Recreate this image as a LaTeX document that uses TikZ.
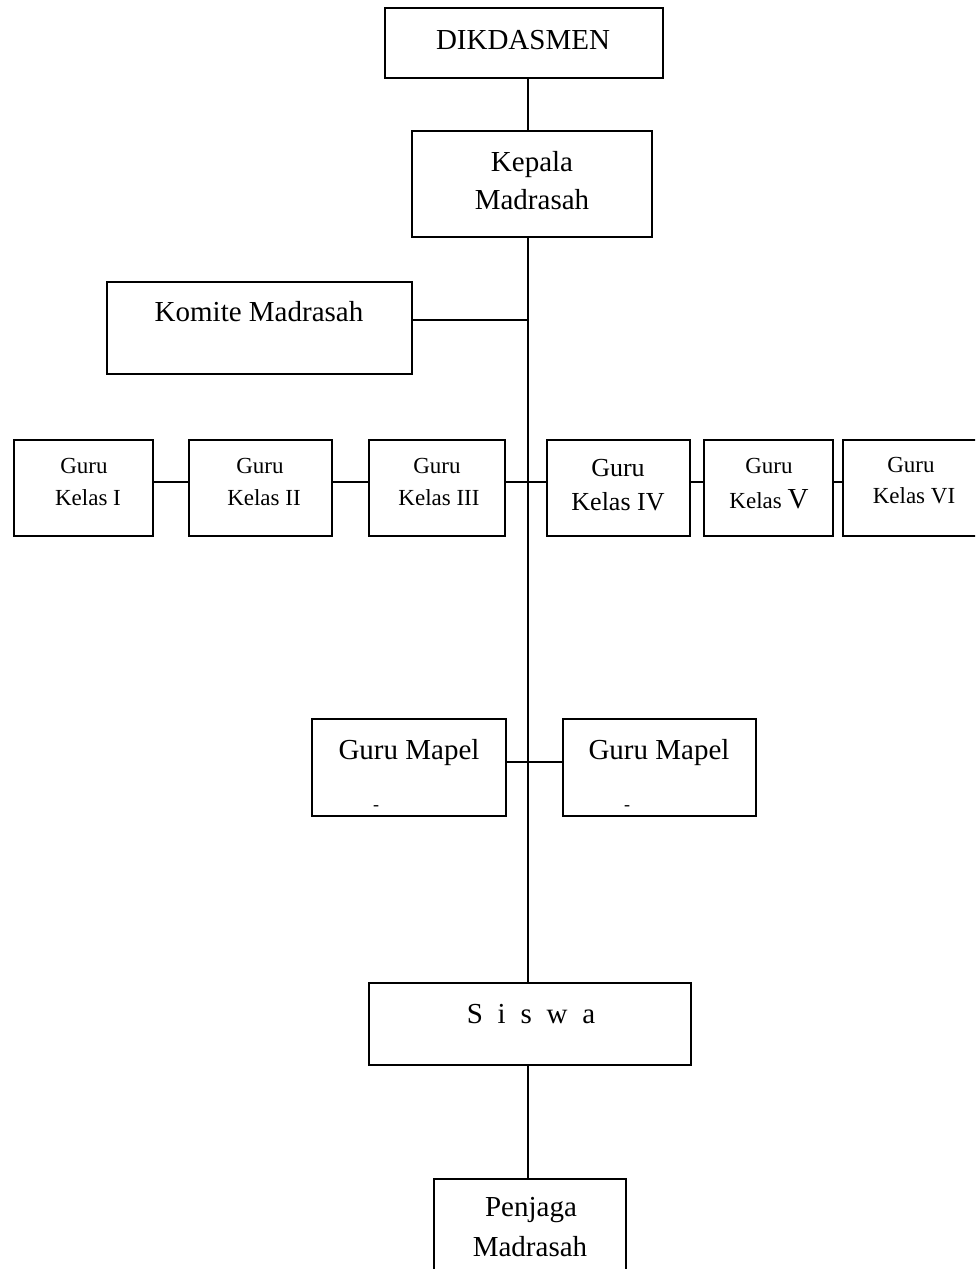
\documentclass[tikz,border=0pt]{standalone}
\usepackage{fontspec}
\setmainfont{Liberation Serif}
\tikzset{
  kotak/.style={draw=black, line width=1.6pt, inner sep=0pt, outer sep=0pt},
  garis/.style={black, line width=1.5pt},
  teks/.style={anchor=base, inner sep=0pt, font=\fontsize{29}{34}\selectfont},
  teksk/.style={anchor=base, inner sep=0pt, font=\fontsize{23}{28}\selectfont},
  teksm/.style={anchor=base, inner sep=0pt, font=\fontsize{26}{30}\selectfont}
}
\begin{document}
\begin{tikzpicture}[x=1pt,y=-1pt]
\useasboundingbox (0,0) rectangle (975,1269);
\clip (0,0) rectangle (975,1269);
\fill[white] (0,0) rectangle (975,1269);
% kotak
\node[kotak, minimum width=278pt, minimum height=70pt] (dik) at (524,43) {};
\node[kotak, minimum width=240pt, minimum height=106pt] (kepala) at (532,184) {};
\node[kotak, minimum width=305pt, minimum height=92pt] (komite) at (259.5,328) {};
\node[kotak, minimum width=139pt, minimum height=96pt] (k1) at (83.5,488) {};
\node[kotak, minimum width=143pt, minimum height=96pt] (k2) at (260.5,488) {};
\node[kotak, minimum width=136pt, minimum height=96pt] (k3) at (437,488) {};
\node[kotak, minimum width=143pt, minimum height=96pt] (k4) at (618.5,488) {};
\node[kotak, minimum width=129pt, minimum height=96pt] (k5) at (768.5,488) {};
\node[kotak, minimum width=140pt, minimum height=96pt] (k6) at (913,488) {};
\node[kotak, minimum width=194pt, minimum height=97pt] (mapelA) at (409,767.5) {};
\node[kotak, minimum width=193pt, minimum height=97pt] (mapelB) at (659.5,767.5) {};
\node[kotak, minimum width=322pt, minimum height=82pt] (siswa) at (530,1024) {};
\node[kotak, minimum width=192pt, minimum height=111pt] (penjaga) at (530,1234.5) {};
% teks
\node[teks] (tdik) at (523,49) {DIKDASMEN};
\node[teks] (tkep1) at (532,171) {Kepala};
\node[teks] (tkep2) at (532,209) {Madrasah};
\node[teks] (tkom) at (259,321) {Komite Madrasah};
\node[teksk] (tk1a) at (84,473) {Guru};
\node[teksk] (tk1b) at (88,505) {Kelas I};
\node[teksk] (tk2a) at (260,473) {Guru};
\node[teksk] (tk2b) at (264,505) {Kelas II};
\node[teksk] (tk3a) at (437,473) {Guru};
\node[teksk] (tk3b) at (439,505) {Kelas III};
\node[teksm] (tk4a) at (618,476) {Guru};
\node[teksm] (tk4b) at (618,510) {Kelas IV};
\node[teksk] (tk5a) at (769,473) {Guru};
\node[teksk] (tk5b) at (769,508) {Kelas {\fontsize{29}{34}\selectfont V}};
\node[teksk] (tk6a) at (911,472) {Guru};
\node[teksk] (tk6b) at (914,503) {Kelas VI};
\node[teks] (tmA) at (409,759) {Guru Mapel};
\node[teks] (tmB) at (659,759) {Guru Mapel};
\node[teksk, font=\fontsize{18}{20}\selectfont] (dashA) at (376,810) {-};
\node[teksk, font=\fontsize{18}{20}\selectfont] (dashB) at (627,810) {-};
\node[teks] (tsis) at (531,1023) {S\hspace{14.8pt}i\hspace{14.8pt}s\hspace{14.8pt}w\hspace{14.8pt}a};
\node[teks] (tpj1) at (531,1216) {Penjaga};
\node[teks] (tpj2) at (530,1256) {Madrasah};
% garis
\coordinate (tengah) at (528,0);
\coordinate (jk) at (528,320);
\coordinate (baris) at (0,482);
\coordinate (jm) at (0,762);
\draw[garis] (tengah |- dik.south) -- (tengah |- kepala.north);
\draw[garis] (tengah |- kepala.south) -- (tengah |- siswa.north);
\draw[garis] (jk -| komite.east) -- (jk);
\draw[garis] (baris -| k1.east) -- (baris -| k2.west);
\draw[garis] (baris -| k2.east) -- (baris -| k3.west);
\draw[garis] (baris -| k3.east) -- (baris -| k4.west);
\draw[garis] (baris -| k4.east) -- (baris -| k5.west);
\draw[garis] (baris -| k5.east) -- (baris -| k6.west);
\draw[garis] (jm -| mapelA.east) -- (jm -| mapelB.west);
\draw[garis] (tengah |- siswa.south) -- (tengah |- penjaga.north);
\end{tikzpicture}
\end{document}
